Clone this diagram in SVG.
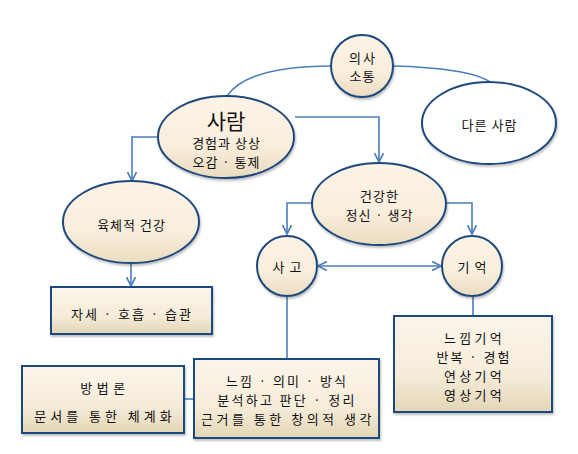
<svg xmlns="http://www.w3.org/2000/svg" width="578" height="454" viewBox="0 0 578 454">
<style>
.node{stroke:#1f497d;stroke-width:2}
.ell{fill:url(#eg)}
.box{fill:url(#bg)}
.wh{fill:#ffffff}
.con{fill:none;stroke:#4a7ebb;stroke-width:1.6}
text{font-family:"Noto Sans CJK KR","Noto Sans",sans-serif;fill:#111;text-anchor:middle;dominant-baseline:central;font-size:13px}
.big{font-size:21px}
.e{letter-spacing:1px}
.s2{letter-spacing:2px}
.s3{letter-spacing:3.3px}
.s4{letter-spacing:4px}
.s5{letter-spacing:5px}
</style>
<defs>
<linearGradient id="eg" x1="0" y1="0" x2="0" y2="1">
<stop offset="0" stop-color="#fdf3e6"/>
<stop offset="0.6" stop-color="#faeedd"/>
<stop offset="1" stop-color="#e9dcbf"/>
</linearGradient>
<linearGradient id="bg" x1="0" y1="0" x2="0" y2="1">
<stop offset="0" stop-color="#fcf5ea"/>
<stop offset="0.6" stop-color="#f6ecda"/>
<stop offset="1" stop-color="#e3d6b6"/>
</linearGradient>
<marker id="ah" viewBox="0 0 10 10" refX="9" refY="5" markerWidth="7" markerHeight="7" orient="auto-start-reverse">
<path d="M1,1 L9,5 L1,9" fill="none" stroke="#4a7ebb" stroke-width="1.5"/>
</marker>
<filter id="sh" x="-10%" y="-10%" width="125%" height="130%">
<feDropShadow dx="1" dy="2" stdDeviation="1.2" flood-color="#000" flood-opacity="0.25"/>
</filter>
</defs>
<g id="connectors">
<path class="con" d="M227,96 C245,70 295,66 332,66"/>
<path class="con" d="M393,66 C440,67 478,73 490,82"/>
<path class="con" d="M295,117 L379,117 L379,162" marker-end="url(#ah)"/>
<path class="con" d="M158,137 L132,137 L132,181" marker-end="url(#ah)"/>
<path class="con" d="M131,263 L131,286" marker-end="url(#ah)"/>
<path class="con" d="M312,203 L287,203 L287,234" marker-end="url(#ah)"/>
<path class="con" d="M447,203 L472,203 L472,234" marker-end="url(#ah)"/>
<path class="con" d="M318,266 L441,266" marker-start="url(#ah)" marker-end="url(#ah)"/>
<path class="con" d="M287,297 L287,359"/>
<path class="con" d="M473,297 L473,316"/>
<path class="con" d="M184,399 L194,399"/>
</g>
<g id="n-uisa">
<circle class="node ell" cx="362" cy="66" r="31" filter="url(#sh)"/>
<text class="s2" x="363" y="57">의사</text>
<text class="e" x="362.5" y="75">소통</text>
</g>
<g id="n-other">
<ellipse class="node wh" cx="489" cy="123" rx="67" ry="41" filter="url(#sh)"/>
<text class="e" x="489.5" y="124">다른 사람</text>
</g>
<g id="n-person">
<ellipse class="node ell" cx="226" cy="137" rx="68" ry="41" filter="url(#sh)"/>
<text class="big" x="226" y="120">사람</text>
<text class="e" x="226.5" y="142">경험과 상상</text>
<text class="e" x="226.5" y="161">오감 · 통제</text>
</g>
<g id="n-body">
<ellipse class="node ell" cx="131" cy="222" rx="68" ry="41" filter="url(#sh)"/>
<text class="e" x="131.5" y="224">육체적 건강</text>
</g>
<g id="n-posture">
<rect class="node box" x="51" y="287" width="161" height="47" filter="url(#sh)"/>
<text class="s2" x="132" y="313">자세 · 호흡 · 습관</text>
</g>
<g id="n-mind">
<ellipse class="node ell" cx="379" cy="204" rx="67" ry="41" filter="url(#sh)"/>
<text class="e" x="379.5" y="195">건강한</text>
<text class="e" x="379.5" y="214">정신 · 생각</text>
</g>
<g id="n-think">
<circle class="node ell" cx="287" cy="266" r="30" filter="url(#sh)"/>
<text class="s5" x="289.5" y="266">사고</text>
</g>
<g id="n-memory">
<circle class="node ell" cx="472" cy="266" r="30" filter="url(#sh)"/>
<text class="s5" x="474.5" y="266">기억</text>
</g>
<g id="n-method">
<rect class="node box" x="22" y="366" width="162" height="67" filter="url(#sh)"/>
<text style="letter-spacing:4.5px" x="105" y="387">방법론</text>
<text class="s4" x="105" y="415">문서를 통한 체계화</text>
</g>
<g id="n-thinkbox">
<rect class="node box" x="194" y="359" width="185" height="79" filter="url(#sh)"/>
<text class="s2" x="287" y="380">느낌 · 의미 · 방식</text>
<text style="letter-spacing:2.3px" x="287" y="399">분석하고 판단  · 정리</text>
<text style="letter-spacing:3.5px" x="288" y="418">근거를 통한 창의적 생각</text>
</g>
<g id="n-membox">
<rect class="node box" x="394" y="316" width="158" height="96" filter="url(#sh)"/>
<text class="s3" x="474.5" y="337">느낌기억</text>
<text class="s2" x="474" y="356">반복 · 경험</text>
<text class="s3" x="474.5" y="375">연상기억</text>
<text class="s3" x="474.5" y="394">영상기억</text>
</g>
</svg>
